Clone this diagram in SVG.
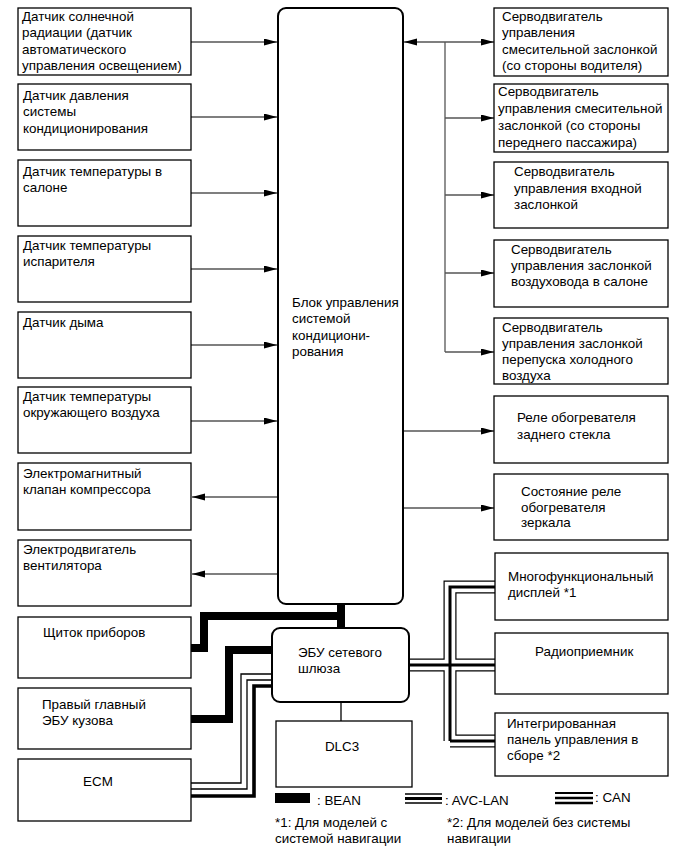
<svg xmlns="http://www.w3.org/2000/svg" width="690" height="854" viewBox="0 0 690 854">
<style>
.box{fill:#fff;stroke:#000;stroke-width:1.3}
.blk{fill:#fff;stroke:#000;stroke-width:2}
text{font-family:"Liberation Sans",Arial,sans-serif;font-size:13.4px;fill:#000}
.c{fill:none;stroke:#555;stroke-width:1.3}
.bean{fill:none;stroke:#000;stroke-width:8;stroke-linejoin:miter}
.a1{fill:none;stroke:#000;stroke-width:13;stroke-linejoin:miter}
.a2{fill:none;stroke:#fff;stroke-width:10.6;stroke-linejoin:miter}
.a3{fill:none;stroke:#000;stroke-width:3;stroke-linejoin:miter}
.t{fill:none;stroke:#000;stroke-width:1.3}
.k{fill:none;stroke:#000;stroke-width:3.6}
</style>
<defs>
<marker id="ar" markerUnits="userSpaceOnUse" markerWidth="14" markerHeight="8" refX="13" refY="3.5" orient="auto-start-reverse">
<path d="M0,0 L13,3.5 L0,7 z" fill="#000"/>
</marker>
</defs>
<g id="connectors">
<path class="c" d="M191 42 H277" marker-end="url(#ar)"/>
<path class="c" d="M191 117 H277" marker-end="url(#ar)"/>
<path class="c" d="M191 193 H277" marker-end="url(#ar)"/>
<path class="c" d="M191 269 H277" marker-end="url(#ar)"/>
<path class="c" d="M191 345 H277" marker-end="url(#ar)"/>
<path class="c" d="M191 421 H277" marker-end="url(#ar)"/>
<path class="c" d="M277 497 H192" marker-end="url(#ar)"/>
<path class="c" d="M277 574 H192" marker-end="url(#ar)"/>
<path class="c" d="M404 42 H494" marker-start="url(#ar)" marker-end="url(#ar)"/>
<path class="c" d="M445 42 V352"/>
<path class="c" d="M445 118 H494" marker-end="url(#ar)"/>
<path class="c" d="M445 195 H494" marker-end="url(#ar)"/>
<path class="c" d="M445 273 H494" marker-end="url(#ar)"/>
<path class="c" d="M445 352 H494" marker-end="url(#ar)"/>
<path class="c" d="M404 431 H494" marker-end="url(#ar)"/>
<path class="c" d="M404 508 H494" marker-end="url(#ar)"/>
<path class="t" d="M341 702 V721"/>
<path class="bean" d="M341 604 V628"/>
<path class="bean" d="M191 648 H204 V616 H345"/>
<path class="bean" d="M272 650 H229 V719 H191"/>
<path class="t" d="M272 674 H241 V783 H191"/>
<path class="t" d="M272 680 H247 V789 H191"/>
<path class="k" d="M272 686 H254 V796 H191"/>
<path class="a1" d="M409 665 H495 M450 741 V587 H495 M450 741 H495"/>
<path class="a2" d="M409 665 H495 M450 741 V587 H495 M450 741 H495"/>
<path class="a3" d="M409 665 H495 M450 741 V587 H495 M450 741 H495"/>
</g>
<g id="n1"><rect class="box" x="18" y="8" width="173" height="67"/><text x="22" y="21">Датчик солнечной</text><text x="22" y="37.3">радиации (датчик</text><text x="22" y="53.6">автоматического</text><text x="22" y="69.9">управления освещением)</text></g>
<g id="n2"><rect class="box" x="18" y="84" width="173" height="66"/><text x="23" y="100">Датчик давления</text><text x="23" y="116.3">системы</text><text x="23" y="132.6">кондиционирования</text></g>
<g id="n3"><rect class="box" x="18" y="160" width="173" height="66"/><text x="23" y="176">Датчик температуры в</text><text x="23" y="192.3">салоне</text></g>
<g id="n4"><rect class="box" x="18" y="236" width="173" height="66"/><text x="23" y="250">Датчик температуры</text><text x="23" y="266.3">испарителя</text></g>
<g id="n5"><rect class="box" x="18" y="312" width="173" height="66"/><text x="23" y="327">Датчик дыма</text></g>
<g id="n6"><rect class="box" x="18" y="387" width="173" height="66"/><text x="23" y="401">Датчик температуры</text><text x="23" y="417.3">окружающего воздуха</text></g>
<g id="n7"><rect class="box" x="18" y="463" width="173" height="67"/><text x="23" y="478">Электромагнитный</text><text x="23" y="494.3">клапан компрессора</text></g>
<g id="n8"><rect class="box" x="18" y="540" width="173" height="66"/><text x="23" y="554">Электродвигатель</text><text x="23" y="570.3">вентилятора</text></g>
<g id="n9"><rect class="box" x="18" y="617" width="173" height="61"/><text x="43" y="637">Щиток приборов</text></g>
<g id="n10"><rect class="box" x="18" y="688" width="173" height="61"/><text x="42" y="709">Правый главный</text><text x="42" y="725.3">ЭБУ кузова</text></g>
<g id="n11"><rect class="box" x="18" y="759" width="173" height="62"/><text x="98" y="786" text-anchor="middle">ECM</text></g>
<g id="main"><rect class="blk" x="278" y="8" width="125" height="596" rx="8"/><text x="292" y="307">Блок управления</text><text x="292" y="323.3">системой</text><text x="292" y="339.6">кондициони-</text><text x="292" y="355.9">рования</text></g>
<g id="gw"><rect class="blk" x="272" y="628" width="137" height="74" rx="8"/><text x="298" y="657">ЭБУ сетевого</text><text x="298" y="673.3">шлюза</text></g>
<g id="dlc"><rect class="box" x="276" y="721" width="136" height="66"/><text x="342" y="751" text-anchor="middle">DLC3</text></g>
<g id="r1"><rect class="box" x="494" y="8" width="174" height="68"/><text x="502" y="21">Серводвигатель</text><text x="502" y="37.3">управления</text><text x="502" y="53.6">смесительной заслонкой</text><text x="502" y="69.9">(со стороны водителя)</text></g>
<g id="r2"><rect class="box" x="494" y="84" width="174" height="68"/><text x="498" y="96">Серводвигатель</text><text x="498" y="113">управления смесительной</text><text x="498" y="130">заслонкой (со стороны</text><text x="498" y="147">переднего пассажира)</text></g>
<g id="r3"><rect class="box" x="494" y="162" width="174" height="66"/><text x="514" y="176">Серводвигатель</text><text x="514" y="192.5">управления входной</text><text x="514" y="209">заслонкой</text></g>
<g id="r4"><rect class="box" x="494" y="240" width="174" height="67"/><text x="511" y="254">Серводвигатель</text><text x="511" y="270">управления заслонкой</text><text x="511" y="286">воздуховода в салоне</text></g>
<g id="r5"><rect class="box" x="494" y="318" width="174" height="66"/><text x="502" y="332">Серводвигатель</text><text x="502" y="348">управления заслонкой</text><text x="502" y="364">перепуска холодного</text><text x="502" y="380">воздуха</text></g>
<g id="r6"><rect class="box" x="494" y="396" width="174" height="67"/><text x="517" y="422">Реле обогревателя</text><text x="517" y="439">заднего стекла</text></g>
<g id="r7"><rect class="box" x="494" y="474" width="174" height="66"/><text x="521" y="496">Состояние реле</text><text x="521" y="512">обогревателя</text><text x="521" y="527">зеркала</text></g>
<g id="r8"><rect class="box" x="495" y="553" width="173" height="67"/><text x="508" y="581">Многофункциональный</text><text x="508" y="597">дисплей *1</text></g>
<g id="r9"><rect class="box" x="495" y="633" width="173" height="61"/><text x="535" y="656">Радиоприемник</text></g>
<g id="r10"><rect class="box" x="495" y="713" width="173" height="63"/><text x="507" y="728">Интегрированная</text><text x="507" y="744">панель управления в</text><text x="507" y="760">сборе *2</text></g>
<g id="legend">
<rect x="275" y="793" width="35" height="10" fill="#000"/>
<text x="317" y="805">: BEAN</text>
<path class="t" d="M405 794 H442 M405 803 H442"/>
<path fill="none" stroke="#000" stroke-width="3" d="M405 798.5 H442"/>
<text x="445" y="805">: AVC-LAN</text>
<path fill="none" stroke="#000" stroke-width="1.8" d="M555 793 H593"/>
<path fill="none" stroke="#000" stroke-width="2.6" d="M555 798 H593 M555 803 H593"/>
<text x="595" y="802">: CAN</text>
<text x="275" y="827">*1: Для моделей с</text>
<text x="275" y="843">системой навигации</text>
<text x="447" y="827">*2: Для моделей без системы</text>
<text x="447" y="843">навигации</text>
</g>
</svg>
